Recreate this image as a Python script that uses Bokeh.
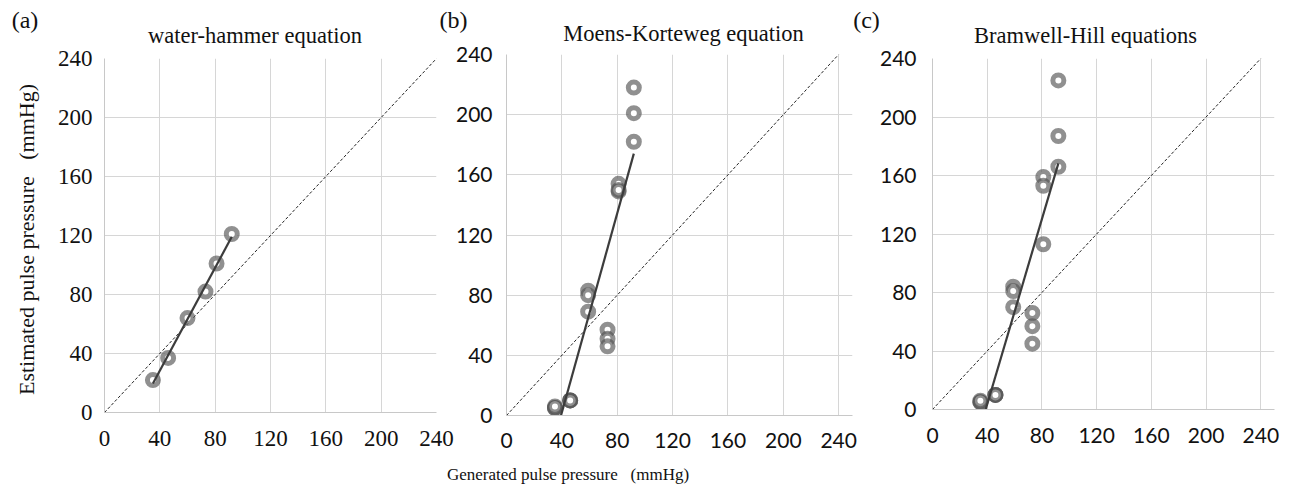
import numpy as np
from bokeh.plotting import figure
from bokeh.layouts import row
from bokeh.models import Range1d, FixedTicker, Label
from bokeh.embed import file_html
from bokeh.resources import INLINE

W, H = 1290, 494

# ---------------- data ----------------
ticks = [0, 40, 80, 120, 160, 200, 240]
identity = [0, 240]

a_x = [35, 46, 60, 73, 81, 92]
a_y = [22, 37, 64, 82, 101, 121]

b_x = [35, 35, 35, 46, 46, 46, 59, 59, 59, 73, 73, 73, 81, 81, 81, 92, 92, 92]
b_y = [5, 5, 6, 10, 10, 10, 83, 80, 69, 57, 51, 46, 154, 149, 150, 182, 201, 218]

c_x = [35, 35, 35, 46, 46, 46, 59, 59, 59, 73, 73, 73, 81, 81, 81, 92, 92, 92]
c_y = [5, 5, 6, 10, 10, 10, 84, 81, 70, 66, 57, 45, 159, 153, 113, 166, 187, 225]

titles = ["water-hammer equation", "Moens-Korteweg equation", "Bramwell-Hill equations"]
letters = ["(a)", "(b)", "(c)"]
y_label = "Estimated pulse pressure \u00a0 (mmHg)"
x_label = "Generated pulse pressure \u00a0 (mmHg)"

SERIF = "Liberation Serif"
SANS = "Lato"


def make_panel(xs, ys, x_end, frame, tick_font, tick_size, y_standoff, x_standoff):
    L, T, FW, FH = frame
    p = figure(width=W, height=H, output_backend="svg", toolbar_location=None,
               x_range=Range1d(0, x_end), y_range=Range1d(0, 240),
               min_border_left=L, min_border_right=W - L - FW,
               min_border_top=T, min_border_bottom=H - T - FH)
    p.frame_align = False
    p.border_fill_color = None
    p.background_fill_color = "white"
    p.outline_line_color = None

    for ax in (p.xaxis[0], p.yaxis[0]):
        ax.ticker = FixedTicker(ticks=ticks)
        ax.major_tick_line_color = None
        ax.minor_tick_line_color = None
        ax.major_tick_out = 0
        ax.major_tick_in = 0
        ax.axis_line_color = "#c8c8c8"
        ax.axis_line_width = 1
        ax.major_label_text_font = tick_font
        ax.major_label_text_font_size = f"{tick_size}px"
        ax.major_label_text_color = "#111111"
    p.yaxis[0].major_label_standoff = y_standoff
    p.xaxis[0].major_label_standoff = x_standoff

    for g in (p.xgrid[0], p.ygrid[0]):
        g.ticker = FixedTicker(ticks=ticks)
        g.grid_line_color = "#d6d6d6"
        g.grid_line_width = 1

    p.line(identity, identity, line_color="#222222", line_width=1, line_dash="3 2")
    p.scatter(xs, ys, marker="circle", size=11, line_width=5,
              line_color="#555555", line_alpha=0.65,
              fill_color="white", fill_alpha=1.0)
    coef = np.polyfit(xs, ys, 1)
    tx = [min(xs), max(xs)]
    ty = list(np.polyval(coef, tx))
    p.line(tx, ty, line_color="#3c3c3c", line_width=2.2)
    return p


fa = (104, 58, 332, 354)
fb = (506, 54, 346, 361)
fc = (932, 58, 342, 351)

pa = make_panel(a_x, a_y, 240, fa, SERIF, 23, 12, 18)
pb = make_panel(b_x, b_y, 250, fb, SANS, 21, 14, 17)
pc = make_panel(c_x, c_y, 250, fc, SANS, 21, 16, 18)

# text layer: a frameless figure covering the whole page, data units = page pixels
pt = figure(width=W, height=H, output_backend="svg", toolbar_location=None,
            x_range=Range1d(0, W), y_range=Range1d(0, H),
            x_axis_type=None, y_axis_type=None, min_border=0)
pt.frame_align = False
pt.grid.visible = False
pt.outline_line_color = None
pt.background_fill_color = None
pt.border_fill_color = None


def add_text(px, py, text, size, angle=0.0):
    pt.add_layout(Label(x=px, y=H - py, text=text, text_font=SERIF,
                        text_font_size=f"{size}px", text_align="center",
                        text_baseline="middle", angle=angle, text_color="#111111"))


add_text(24.5, 19, letters[0], 24)
add_text(254.5, 35, titles[0], 22.5)
add_text(453, 19, letters[1], 24)
add_text(683, 33, titles[1], 22.5)
add_text(866, 19, letters[2], 24)
add_text(1085, 35, titles[2], 22.5)
add_text(26, 239, y_label, 22, angle=np.pi / 2)
add_text(567.5, 474, x_label, 17)

for q in (pb, pc, pt):
    q.margin = (0, 0, 0, -W)
pa.margin = (0, 0, 0, 0)

layout = row(pa, pb, pc, pt, spacing=0)

open("out.html", "w").write(file_html(layout, INLINE))
